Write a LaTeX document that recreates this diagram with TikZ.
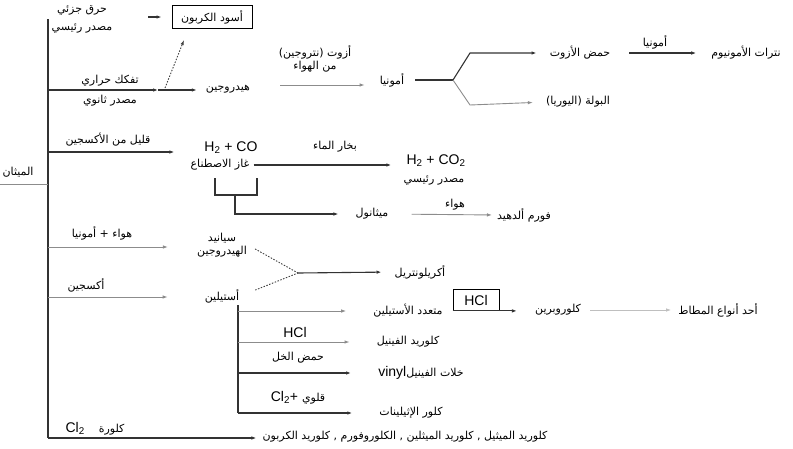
\documentclass[tikz,border=0pt]{standalone}
\usepackage{fontspec}
\setmainfont{Liberation Sans}
\newfontfamily\arabicfont[Script=Arabic]{DejaVu Sans}
\TeXXeTstate=1
\newcommand\artx[1]{{\arabicfont\fontsize{11}{12}\selectfont\beginR #1\endR}}
\usetikzlibrary{arrows.meta}

\begin{document}
\begin{tikzpicture}[x=1pt,y=-1pt,>={Latex[length=5pt,width=3.5pt]},
        every node/.style={inner sep=1pt,font=\fontsize{14}{15}\selectfont},
        dk/.style={line width=1.1pt,black!80},
        lt/.style={line width=0.9pt,black!45},
        dots/.style={line width=0.9pt,black!75,dash pattern=on 1.5pt off 1.5pt}]
        \useasboundingbox(0,0)rectangle(793,448);

        % main line
        \coordinate(top)at(48,19);\coordinate(bot)at(48,438);
        \draw[dk](top)--(bot);
        \node(meth)at(18,172){\artx{الميثان}};
        \coordinate(m0)at(0,184);\coordinate(m1)at(48,184);
        \draw[lt](m0)--(m1);

        % carbon black, hydrogen
        \node(pc1)at(82,10){\artx{حرق جزئي}};
        \node(pc2)at(82,28){\artx{مصدر رئيسي}};
        \node[draw,line width=0.8pt,minimum width=80pt,minimum height=23pt](cb)at(212,17){\artx{أسود الكربون}};
        \coordinate(c0)at(148,17);
        \draw[dk,->,shorten >=10pt](c0)--(c0-|cb.west);
        \node(td1)at(110,81){\artx{تفكك حراري}};
        \node(td2)at(110,101){\artx{مصدر ثانوي}};
        \node(hyd)at(228,89){\artx{هيدروجين}};
        \coordinate(b2)at(48,90);\coordinate(t2)at(158,90);
        \draw[dk,->](b2)--(t2);
        \draw[dk,->,shorten >=8pt](t2)--(t2-|hyd.west);
        \coordinate(t3)at(165,88);\coordinate(t4)at(184,40);
        \draw[dots,->](t3)--(t4);

        % ammonia
        \node[align=center](n2)at(315,59){\artx{أزوت (نتروجين)}\\[-2pt]\artx{من الهواء}};
        \node(nh3)at(392,80){\artx{أمونيا}};
        \coordinate(h1)at(280,85);
        \draw[lt,->,shorten >=14pt](h1)--(h1-|nh3.west);
        \coordinate(f1)at(453,80);
        \draw[dk,shorten <=10pt](nh3.east)--(f1);
        \node(hno3)at(580,53){\artx{حمض الأزوت}};
        \node(urea)at(578,102){\artx{البولة (اليوريا)}};
        \draw[dk,->,shorten >=12pt](f1)--++(17,-27)--(hno3.west);
        \draw[lt,->,shorten >=12pt](f1)--++(17,25)--(urea.west);
        \node(nh3b)at(655,42){\artx{أمونيا}};
        \node(amn)at(746,53){\artx{نترات الأمونيوم}};
        \draw[dk,->,shorten <=18pt,shorten >=14pt](hno3.east)--(amn.west);

        % synthesis gas
        \coordinate(b3)at(48,152);
        \node(ox)at(108,140){\artx{قليل من الأكسجين}};
        \node(syn)at(231,148){H\textsubscript{2} + CO};
        \node(syng)at(220,165){\artx{غاز الاصطناع}};
        \draw[dk,->,shorten >=15pt](b3)--(b3-|syng.west);
        \node(stm)at(335,147){\artx{بخار الماء}};
        \node(co2)at(436,161){H\textsubscript{2} + CO\textsubscript{2}};
        \node(co2s)at(434,180){\artx{مصدر رئيسي}};
        \draw[dk,->,shorten <=3pt,shorten >=14pt](syng.east)--(syng.east-|co2.west);
        \coordinate(k1)at(215,178);\coordinate(k2)at(257,178);\coordinate(k3)at(235,195);
        \draw[dk](k1)--(k1|-k3)--(k2|-k3)--(k2);
        \node(meoh)at(372,214){\artx{ميثانول}};
        \draw[dk,->,shorten >=16pt](k3)|-(meoh.west);
        \node(air1)at(455,205){\artx{هواء}};
        \node(form)at(524,215){\artx{فورم ألدهيد}};
        \draw[lt,->,shorten <=22pt,shorten >=4pt](meoh.east)--(form.west);

        % hydrogen cyanide, acetylene
        \coordinate(b4)at(48,247);\coordinate(b5)at(48,297);
        \node(am)at(102,233){\artx{هواء + أمونيا}};
        \node[align=center](hcn)at(222,245){\artx{سيانيد}\\[-2pt]\artx{الهيدروجين}};
        \draw[lt,->,shorten >=28pt](b4)--(b4-|hcn.west);
        \node(o2)at(86,285){\artx{أكسجين}};
        \node(acet)at(222,296){\artx{أستيلين}};
        \draw[lt,->,shorten >=36pt](b5)--(b5-|acet.west);
        \coordinate(f2)at(298,273);
        \draw[dots,shorten <=8pt](hcn.east)--(f2);
        \draw[dots,shorten <=16pt](acet.east)--(f2);
        \node(acn)at(420,272){\artx{أكريلونتريل}};
        \draw[dk,->,shorten >=12pt](f2)--(acn.west);

        % acetylene products
        \coordinate(v0)at(238,305);\coordinate(v4)at(238,413);
        \draw[dk](v0)--(v4);
        \node(pac)at(408,311){\artx{متعدد الأستيلين}};
        \node(vcl)at(408,342){\artx{كلوريد الفينيل}};
        \node(vac)at(421,373){vinyl\artx{خلات الفينيل}};
        \node(tce)at(411,413){\artx{كلور الإثيلينات}};
        \foreach \n/\y/\s in {pac/311/lt,vcl/342/lt,vac/373/dk,tce/413/dk}{
            \coordinate(v\n)at(238,\y);
            \draw[style=\s,->,shorten >=26pt](v\n)--(v\n-|\n.west);
        }
        \node(hcl2)at(295,332){HCl};
        \node(aca)at(298,358){\artx{حمض الخل}};
        \node(alk)at(298,398){Cl\textsubscript{2}+ \artx{قلوي}};
        \node[draw,line width=0.8pt,minimum width=46pt,minimum height=21pt](hclb)at(476,300){HCl};
        \node(cpr)at(558,310){\artx{كلوروبرين}};
        \draw[dk,->,shorten >=17pt](hclb.south west)--(hclb.south west-|cpr.west);
        \node(rub)at(718,310){\artx{أحد أنواع المطاط}};
        \draw[line width=0.8pt,black!25,->,shorten <=8pt,shorten >=6pt](cpr.east)--(rub.west);

        % chlorination
        \coordinate(b6)at(48,438);
        \node(clz)at(95,429){Cl\textsubscript{2}\quad\artx{كلورة}};
        \node(chl)at(405,437){\artx{كلوريد الميثيل , كلوريد الميثلين , الكلوروفورم , كلوريد الكربون}};
        \draw[dk,->,shorten >=5pt](b6)--(b6-|chl.west);
    \end{tikzpicture}
\end{document}
